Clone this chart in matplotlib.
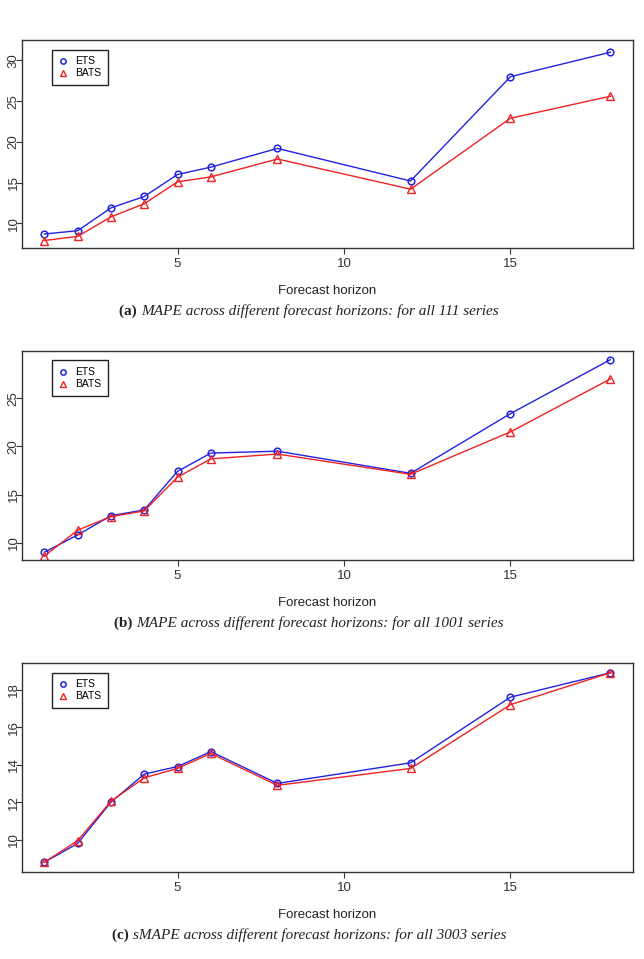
import matplotlib
matplotlib.use("Agg")
import matplotlib.pyplot as plt

horizons = [1, 2, 3, 4, 5, 6, 8, 12, 15, 18]

ets_a = [8.7, 9.1, 11.9, 13.3, 16.0, 16.9, 19.2, 15.2, 28.0, 31.0]
bats_a = [7.9, 8.4, 10.8, 12.4, 15.1, 15.7, 17.9, 14.2, 22.9, 25.6]

ets_b = [9.0, 10.8, 12.8, 13.4, 17.4, 19.3, 19.5, 17.2, 23.4, 29.0]
bats_b = [8.6, 11.3, 12.7, 13.3, 16.8, 18.7, 19.2, 17.1, 21.5, 27.0]

ets_c = [8.8, 9.8, 12.0, 13.5, 13.9, 14.7, 13.0, 14.1, 17.6, 18.9]
bats_c = [8.8, 9.95, 12.05, 13.3, 13.8, 14.6, 12.9, 13.8, 17.2, 18.9]

yticks_a = [10, 15, 20, 25, 30]
yticks_b = [10, 15, 20, 25]
yticks_c = [10, 12, 14, 16, 18]
xticks = [5, 10, 15]

caption_tags = ["(a)", "(b)", "(c)"]
caption_texts = [
    "MAPE across different forecast horizons: for all 111 series",
    "MAPE across different forecast horizons: for all 1001 series",
    "sMAPE across different forecast horizons: for all 3003 series",
]
xlabel = "Forecast horizon"

W, H = 644, 959
fig = plt.figure(figsize=(W / 100, H / 100), dpi=100)

panels = [
    (ets_a, bats_a, yticks_a, (6.98, 32.5), (40, 248)),
    (ets_b, bats_b, yticks_b, (8.2, 29.9), (351, 560)),
    (ets_c, bats_c, yticks_c, (8.28, 19.42), (663, 872)),
]

left_px, right_px = 21.7, 633
sans = ["Liberation Sans", "DejaVu Sans"]
serif = ["Liberation Serif", "DejaVu Serif"]
blue = "#2222e0"
red = "#ee2222"

for i, (ets, bats, yt, ylim, (top, bot)) in enumerate(panels):
    axh = bot - top
    axw = right_px - left_px
    ax = fig.add_axes([left_px / W, 1 - bot / H, axw / W, axh / H])
    ax.plot(horizons, ets, color=blue, lw=1.0, marker="o", ms=4.8,
            mfc="none", mec=blue, mew=1.1, label="ETS")
    ax.plot(horizons, bats, color=red, lw=1.0, marker="^", ms=5.5,
            mfc="none", mec=red, mew=1.0, label="BATS")
    ax.set_xlim(0.32, 18.68)
    ax.set_ylim(*ylim)
    ax.set_xticks(xticks)
    ax.set_yticks(yt)
    for s in ax.spines.values():
        s.set_color("#333333")
        s.set_linewidth(1.0)
    ax.tick_params(direction="out", length=4, width=0.8, colors="#333333",
                   labelsize=9.5, labelcolor="#333333")
    ax.tick_params(axis="x", pad=3)
    ax.tick_params(axis="y", pad=-2.5)
    for lab in ax.get_yticklabels():
        lab.set_rotation(90)
        lab.set_va("center")
        lab.set_family(sans)
    for lab in ax.get_xticklabels():
        lab.set_family(sans)
    ax.set_xlabel(xlabel, fontsize=9.5, family=sans, color="#222222", labelpad=11)
    leg = ax.legend(loc="upper left",
                    bbox_to_anchor=((52 - left_px) / axw, 1 - 9.5 / axh),
                    borderaxespad=0, fancybox=False, framealpha=1, edgecolor="#222222",
                    prop={"family": sans, "size": 7.5},
                    handlelength=0.8, handletextpad=0.75, borderpad=0.65, labelspacing=0.2,
                    markerscale=0.8)
    leg.get_frame().set_linewidth(1.0)
    for h in leg.get_lines():
        h.set_linestyle("none")

    cap_y = 1 - (bot + 67) / H
    t = fig.text(0.5, cap_y, caption_tags[i] + " ", fontsize=11, fontweight="bold",
                 family=serif, ha="left", va="baseline", color="#222222")
    t2 = fig.text(0.5, cap_y, caption_texts[i], fontsize=11, style="italic",
                  family=serif, ha="left", va="baseline", color="#222222")
    fig.canvas.draw()
    r = fig.canvas.get_renderer()
    w1 = t.get_window_extent(r).width
    w2 = t2.get_window_extent(r).width
    total = w1 + w2
    x0 = 309 - total / 2
    t.set_x(x0 / W)
    t2.set_x((x0 + w1) / W)

fig.savefig("out.png", dpi=100)
